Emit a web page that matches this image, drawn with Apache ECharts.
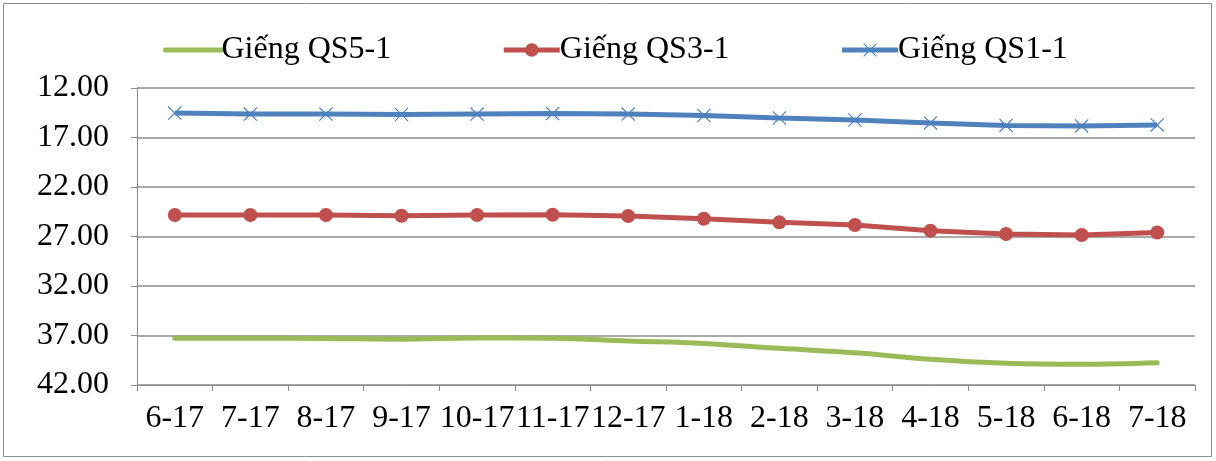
<!DOCTYPE html>
<html>
<head>
<meta charset="utf-8">
<script src="https://cdn.jsdelivr.net/npm/echarts@6/dist/echarts.min.js"></script>
<style>
  html, body { margin: 0; padding: 0; background: #fff; }
  #chart { width: 1216px; height: 461px; }
</style>
</head>
<body>
<div id="chart"></div>
<script>
// tháng-năm
var months = ["6-17", "7-17", "8-17", "9-17", "10-17", "11-17", "12-17",
  "1-18", "2-18", "3-18", "4-18", "5-18", "6-18", "7-18"];

// mực nước (m)
var qs51 = [37.28, 37.28, 37.30, 37.38, 37.25, 37.28, 37.55, 37.80, 38.30, 38.74, 39.40, 39.80, 39.90, 39.75];
var qs31 = [24.83, 24.83, 24.83, 24.90, 24.83, 24.80, 24.93, 25.20, 25.57, 25.84, 26.41, 26.75, 26.85, 26.60];
var qs11 = [14.53, 14.63, 14.63, 14.68, 14.63, 14.58, 14.63, 14.78, 15.03, 15.23, 15.53, 15.78, 15.83, 15.73];

var seriesNames = ["Giếng QS5-1", "Giếng QS3-1", "Giếng QS1-1"];

var font = "'Liberation Serif', 'Times New Roman', serif";
var gridColor = "#8c8c8c";
// dấu x cho QS1-1
var crossPath = "path://M0,1.2L1.2,0L10,8.8L18.8,0L20,1.2L11.2,10L20,18.8L18.8,20L10,11.2L1.2,20L0,18.8L8.8,10Z";

var chart = echarts.init(document.getElementById("chart"));
chart.setOption({
  animation: false,
  textStyle: { fontFamily: font },
  graphic: [{
    type: "rect",
    shape: { x: 3.5, y: 3.5, width: 1208, height: 453 },
    style: { fill: "none", stroke: gridColor, lineWidth: 1 }
  }],
  legend: {
    top: 29,
    left: 158,
    itemWidth: 56,
    itemHeight: 17,
    itemGap: 110,
    lineStyle: { width: 5 },
    textStyle: { fontSize: 32, color: "#000", fontFamily: font, padding: [0, 0, 0, -5] },
    data: [
      { name: seriesNames[0], itemStyle: { opacity: 0 } },
      { name: seriesNames[1] },
      { name: seriesNames[2] }
    ]
  },
  grid: { left: 137, right: 21, top: 88, bottom: 76 },
  xAxis: {
    type: "category",
    data: months,
    boundaryGap: true,
    axisLine: { lineStyle: { color: gridColor, width: 1 } },
    axisTick: { show: true, length: 6, interval: 0, lineStyle: { color: gridColor } },
    axisLabel: { interval: 0, color: "#000", fontSize: 32, fontFamily: font, margin: 18 }
  },
  yAxis: {
    type: "value",
    inverse: true,
    min: 12,
    max: 42,
    interval: 5,
    axisLine: { show: true, lineStyle: { color: gridColor, width: 1 } },
    axisTick: { show: true, length: 6, lineStyle: { color: gridColor } },
    splitLine: { lineStyle: { color: gridColor, width: 1.5 } },
    axisLabel: {
      color: "#000", fontSize: 32, fontFamily: font, margin: 28,
      formatter: function(v) { return v.toFixed(2); }
    }
  },
  series: [
    {
      name: seriesNames[0],
      type: "line",
      data: qs51,
      smooth: 0.4,
      symbol: "none",
      lineStyle: { color: "#9BBB59", width: 5, cap: "round" },
      itemStyle: { color: "#9BBB59" }
    },
    {
      name: seriesNames[1],
      type: "line",
      data: qs31,
      symbol: "circle",
      symbolSize: 14,
      lineStyle: { color: "#C0504D", width: 5 },
      itemStyle: { color: "#C0504D" }
    },
    {
      name: seriesNames[2],
      type: "line",
      data: qs11,
      symbol: crossPath,
      symbolSize: 14,
      lineStyle: { color: "#4F81BD", width: 5 },
      itemStyle: { color: "#4F81BD" }
    }
  ]
});
</script>
</body>
</html>
